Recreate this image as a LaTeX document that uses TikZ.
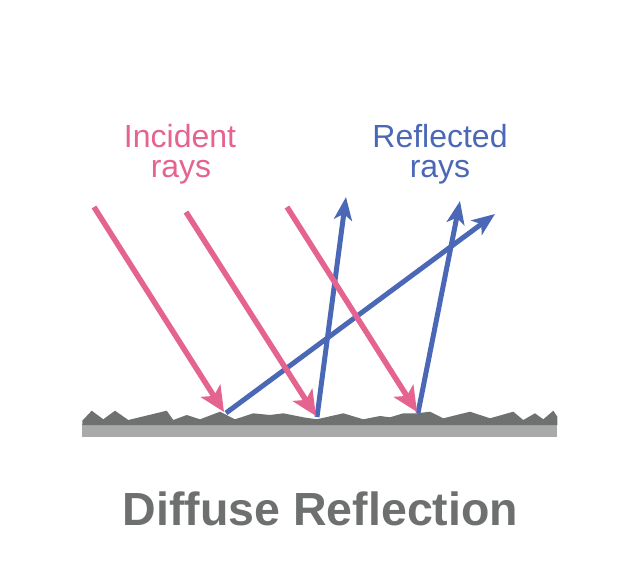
\documentclass[tikz,border=0pt]{standalone}
\usepackage{fontspec}
\setmainfont{Liberation Sans}
\usetikzlibrary{arrows.meta}
\definecolor{pinkc}{HTML}{E5638F}
\definecolor{bluec}{HTML}{4A68B5}
\definecolor{titlec}{HTML}{6E7070}
\definecolor{darkg}{HTML}{6F7171}
\definecolor{lightg}{HTML}{A8A9A9}
\tikzset{
  pinkarrow/.style={draw=pinkc, line width=5.5pt, -{Stealth[length=25pt,width=23pt,inset=6pt]}},
  bluearrow/.style={draw=bluec, line width=5pt, -{Stealth[length=23pt,width=18pt,inset=6pt]}},
  pinktext/.style={text=pinkc, anchor=base, inner sep=0pt, font=\fontsize{32}{36}\selectfont},
  bluetext/.style={text=bluec, anchor=base, inner sep=0pt, font=\fontsize{32}{36}\selectfont},
  titletext/.style={text=titlec, anchor=base, inner sep=0pt, font=\fontsize{46.5}{50}\selectfont\bfseries}
}
\begin{document}
\begin{tikzpicture}[x=1pt,y=-1pt]
\useasboundingbox (0,0) rectangle (623,567);
% ground
\fill[lightg] (82,424) rectangle (557,437);
\fill[darkg] (82.3,425) -- (82.3,420.7) -- (91.7,410.7) -- (103.3,419.3) -- (115,410.7) -- (128.3,420)
  -- (166.7,410.7) -- (173.3,420) -- (186.7,415) -- (200,419.3) -- (220,411.7) -- (235,419.3)
  -- (253.3,413.3) -- (270,415) -- (283.3,413.3) -- (303.3,417.3) -- (316.7,419.3) -- (343.3,413.3)
  -- (363.3,419.3) -- (380,416) -- (390,417.3) -- (403.3,413.3) -- (416.7,413.3) -- (430,411.7)
  -- (443.3,418.3) -- (470,411.7) -- (490,418.3) -- (513.3,411.7) -- (523.3,420) -- (535,413.3)
  -- (543.3,419.3) -- (553.3,410.7) -- (557.3,416.7) -- (557.3,425) -- cycle;
% coordinates
\coordinate (p1s) at (94,207);
\coordinate (p1e) at (224,412);
\coordinate (p2s) at (186,212);
\coordinate (p2e) at (316,416);
\coordinate (p3s) at (287,207);
\coordinate (p3e) at (417,412);
\coordinate (b1s) at (226,413);
\coordinate (b1e) at (495,214);
\coordinate (b2s) at (317,417);
\coordinate (b2e) at (346,197);
\coordinate (b3s) at (418,413);
\coordinate (b3e) at (460,201);
% reflected rays
\draw[bluearrow] (b1s) -- (b1e);
\draw[bluearrow] (b2s) -- (b2e);
\draw[bluearrow] (b3s) -- (b3e);
% incident rays
\draw[pinkarrow] (p1s) -- (p1e);
\draw[pinkarrow] (p2s) -- (p2e);
\draw[pinkarrow] (p3s) -- (p3e);
% labels
\node[pinktext] (inc1) at (180,147) {Incident};
\node[pinktext] (inc2) at (181,177) {rays};
\node[bluetext] (ref1) at (440,147) {Reflected};
\node[bluetext] (ref2) at (440,177) {rays};
\node[titletext] (title) at (320.5,525) {Diffuse Reflection};
\end{tikzpicture}
\end{document}
